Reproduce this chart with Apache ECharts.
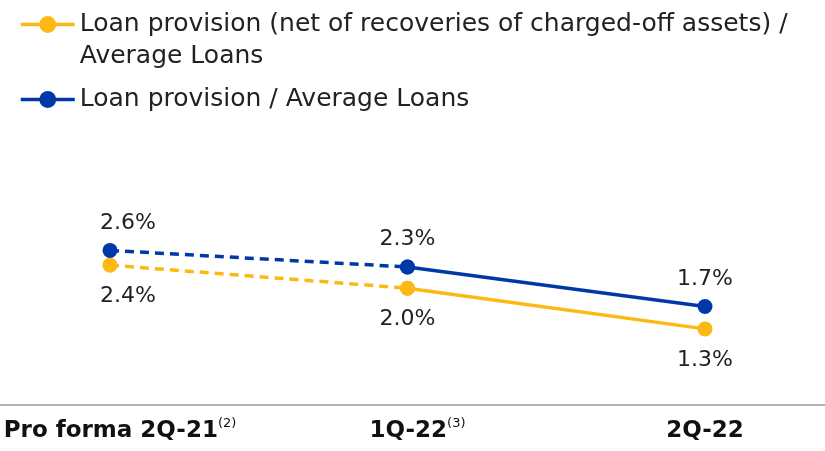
<!DOCTYPE html>
<html>
<head>
<meta charset="utf-8">
<script src="https://cdn.jsdelivr.net/npm/echarts@6/dist/echarts.min.js"></script>
<style>
html,body{margin:0;padding:0;background:#fff;}
#chart{width:825px;height:451px;}
</style>
</head>
<body>
<div id="chart"></div>
<script>
// ---- data ----
const categories = ['Pro forma 2Q-21', '1Q-22', '2Q-22'];
const categoryNotes = ['(2)', '(3)', ''];
const seriesNames = [
  'Loan provision (net of recoveries of charged-off assets) / Average Loans',
  'Loan provision / Average Loans'
];
const legendLines = [
  ['Loan provision (net of recoveries of charged-off assets) /', 'Average Loans'],
  ['Loan provision / Average Loans']
];
const netProvision = [2.37, 1.98, 1.29];    // % (yellow)
const grossProvision = [2.62, 2.34, 1.67];  // % (blue)
const solidFrom = 1; // segments before this index are dashed

const YELLOW = '#FDB913';
const BLUE = '#0038A8';
const FONT = 'DejaVu Sans';

function makeSeries(name, values, color, labelPos, labelDist) {
  const solidData = values.map((v, i) => (i >= solidFrom ? v : '-'));
  const dashedData = values.map((v, i) => (i <= solidFrom ? v : '-'));
  const label = {
    show: true,
    position: labelPos,
    distance: labelDist,
    color: '#222',
    fontFamily: FONT,
    fontSize: 22
  };
  const val = p => (typeof p.value === 'number' ? p.value : p.data.value);
  const base = {
    type: 'line',
    name: name,
    xAxisIndex: 0,
    yAxisIndex: 0,
    symbol: 'circle',
    symbolSize: 15,
    itemStyle: { color: color },
    connectNulls: false,
    animation: false,
    z: 3
  };
  return [
    Object.assign({}, base, {
      data: solidData,
      lineStyle: { color: color, width: 3.5, type: 'solid' },
      label: Object.assign({}, label, {
        formatter: p => (p.dataIndex > solidFrom ? val(p).toFixed(1) + '%' : '')
      })
    }),
    Object.assign({}, base, {
      data: dashedData.map((v, i) => (i === 0 && v !== '-' ? { value: v, label: { offset: [18, 0] } } : v)),
      lineStyle: { color: color, width: 3.5, type: [9, 6] },
      label: Object.assign({}, label, {
        formatter: p => (p.dataIndex <= solidFrom ? val(p).toFixed(1) + '%' : '')
      })
    })
  ];
}

const chart = echarts.init(document.getElementById('chart'), null, { renderer: 'canvas' });

const option = {
  backgroundColor: '#fff',
  animation: false,
  legend: {
    orient: 'vertical',
    left: 19,
    top: -20,
    padding: 0,
    itemWidth: 54,
    itemHeight: 21,
    itemGap: 18,
    data: seriesNames,
    lineStyle: { type: 'solid', width: 3.5 },
    textStyle: {
      color: '#222',
      fontFamily: FONT,
      fontSize: 25,
      rich: {
        h: { fontSize: 25, lineHeight: 32, fontFamily: FONT },
        t: { fontSize: 25, lineHeight: 32, fontFamily: FONT, color: '#222' }
      }
    },
    formatter: n => {
      const lines = legendLines[seriesNames.indexOf(n)];
      const body = lines.map(l => '{t|' + l + '}').join('\n');
      return lines.length > 1 ? '{h| }\n' + body : body;
    }
  },
  grid: [
    { left: 110, right: 120, top: 228, bottom: 46, containLabel: false, outerBoundsMode: 'none' },
    { left: 0, right: 0, top: 228, bottom: 46, containLabel: false, outerBoundsMode: 'none' }
  ],
  xAxis: [
    {
      type: 'category',
      gridIndex: 0,
      data: categories,
      boundaryGap: false,
      axisLine: { show: false },
      axisTick: { show: false },
      axisLabel: {
        margin: 12,
        interval: 0,
        formatter: (v, i) => categoryNotes[i]
          ? '{sp|}{b|' + v + '}{s|' + categoryNotes[i] + '}'
          : '{b|' + v + '}',
        rich: {
          b: { fontFamily: FONT, fontWeight: 'bold', fontSize: 23, color: '#111', lineHeight: 28 },
          s: { fontFamily: FONT, fontSize: 13, color: '#111', verticalAlign: 'top', lineHeight: 28, padding: [0, 0, 14, 0] },
          sp: { width: 20 }
        }
      }
    },
    {
      type: 'value',
      gridIndex: 1,
      min: 0,
      max: 1,
      axisLine: { show: true, onZero: false, lineStyle: { color: '#9a9a9a', width: 1.5 } },
      axisTick: { show: false },
      axisLabel: { show: false },
      splitLine: { show: false }
    }
  ],
  yAxis: [
    { type: 'value', gridIndex: 0, min: 0, max: 3, show: false, splitLine: { show: false } },
    { type: 'value', gridIndex: 1, min: 0, max: 1, show: false, splitLine: { show: false } }
  ],
  series: [
    ...makeSeries(seriesNames[0], netProvision, YELLOW, 'bottom', 13),
    ...makeSeries(seriesNames[1], grossProvision, BLUE, 'top', 9)
  ]
};

chart.setOption(option);
</script>
</body>
</html>
